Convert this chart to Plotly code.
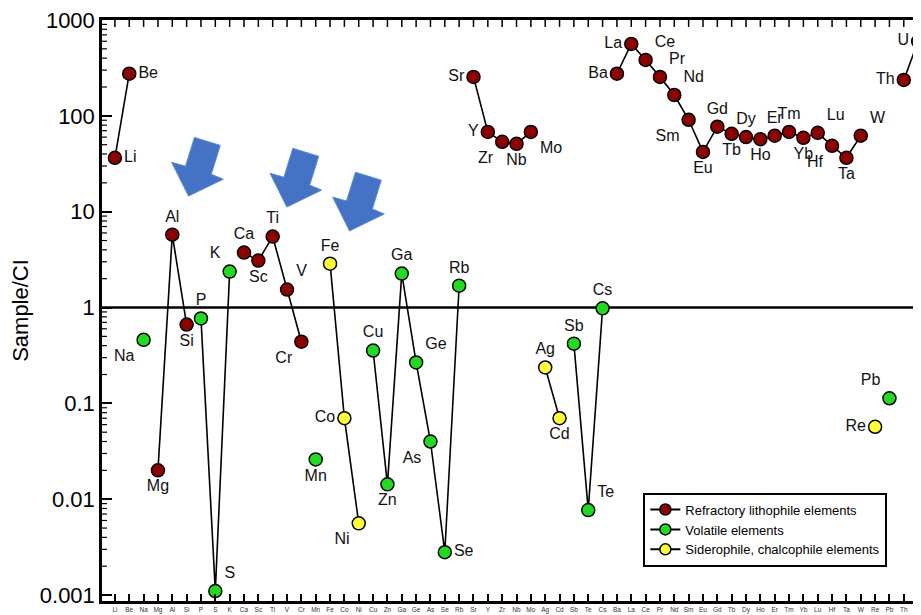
import plotly.graph_objects as go

# ---------------- data ----------------
elements = ["Li","Be","Na","Mg","Al","Si","P","S","K","Ca","Sc","Ti","V","Cr","Mn","Fe","Co","Ni",
            "Cu","Zn","Ga","Ge","As","Se","Rb","Sr","Y","Zr","Nb","Mo","Ag","Cd","Sb","Te","Cs",
            "Ba","La","Ce","Pr","Nd","Sm","Eu","Gd","Tb","Dy","Ho","Er","Tm","Yb","Lu","Hf","Ta",
            "W","Re","Pb","Th","U"]
values = [36.5, 275, 0.46, 0.020, 5.75, 0.665, 0.77, 0.0011, 2.37, 3.74, 3.09, 5.5, 1.54, 0.44,
          0.026, 2.87, 0.070, 0.0056, 0.356, 0.0143, 2.26, 0.267, 0.040, 0.0028, 1.69, 255, 68,
          53.6, 51, 68, 0.237, 0.070, 0.42, 0.0077, 0.98, 275, 562, 383, 255, 165, 91, 42, 77,
          65, 60, 57, 62, 68, 59, 66.5, 48.7, 36.5, 62, 0.057, 0.113, 237, 600]
refractory = ["Li","Be","Mg","Al","Si","Ca","Sc","Ti","V","Cr","Sr","Y","Zr","Nb","Mo","Ba","La",
              "Ce","Pr","Nd","Sm","Eu","Gd","Tb","Dy","Ho","Er","Tm","Yb","Lu","Hf","Ta","W","Th","U"]
volatile = ["Na","P","S","K","Mn","Cu","Zn","Ga","Ge","As","Se","Rb","Sb","Te","Cs","Pb"]
siderophile = ["Fe","Co","Ni","Ag","Cd","Re"]
connected = [["Li","Be"], ["Mg","Al","Si"], ["P","S","K"], ["Ca","Sc","Ti","V","Cr"],
             ["Fe","Co","Ni"], ["Cu","Zn","Ga","Ge","As","Se","Rb"], ["Sr","Y","Zr","Nb","Mo"],
             ["Ag","Cd"], ["Sb","Te","Cs"],
             ["Ba","La","Ce","Pr","Nd","Sm","Eu","Gd","Tb","Dy","Ho","Er","Tm","Yb","Lu","Hf","Ta","W"],
             ["Th","U"]]
group_names = ["Refractory lithophile elements", "Volatile elements", "Siderophile, chalcophile elements"]
ytick_vals = [1000, 100, 10, 1, 0.1, 0.01, 0.001]
ytick_text = ["1000", "100", "10", "1", "0.1", "0.01", "0.001"]

# ---------------- style ----------------
colors = {"R": "#8f0000", "V": "#1fdc1f", "S": "#ffff33"}
label_pos = {
    "Li": "middle right", "Be": "middle right", "Na": "bottom left", "Mg": "bottom center",
    "Al": "top center", "Si": "bottom center", "P": "top center", "S": "top right",
    "K": "top left", "Ca": "top center", "Sc": "bottom center", "Ti": "top center",
    "V": "top right", "Cr": "bottom left", "Mn": "bottom center", "Fe": "top center",
    "Co": "middle left", "Ni": "bottom left", "Cu": "top center", "Zn": "bottom center",
    "Ga": "top center", "Ge": "top right", "As": "bottom left", "Se": "middle right",
    "Rb": "top center", "Sr": "middle left", "Y": "middle left", "Zr": "bottom left",
    "Nb": "bottom center", "Mo": "bottom right", "Ag": "top center", "Cd": "bottom center",
    "Sb": "top center", "Te": "top right", "Cs": "top center", "Ba": "middle left",
    "La": "middle left", "Ce": "top right", "Pr": "top right", "Nd": "top right",
    "Sm": "bottom left", "Eu": "bottom center", "Gd": "top center", "Tb": "bottom center",
    "Dy": "top center", "Ho": "bottom center", "Er": "top center", "Tm": "top center",
    "Yb": "bottom center", "Lu": "top right", "Hf": "bottom left", "Ta": "bottom center",
    "W": "top right", "Re": "middle left", "Pb": "top left", "Th": "middle left", "U": "middle left",
}
FONT = "Arial, Liberation Sans, sans-serif"

idx = {e: i for i, e in enumerate(elements)}
val = dict(zip(elements, values))
XRANGE = [-0.9, 56.2]
YRANGE = [-3.062, 3]
minor_vals = [k * 10.0 ** n for n in range(-3, 3) for k in range(2, 10)]

# geometry (page has an 8px body margin)
FIG_W, FIG_H = 913, 607
L, T, W, H = 89, 9, 824, 584
OFF = 8

fig = go.Figure()

# connecting lines
lx, ly = [], []
for seg in connected:
    for e in seg:
        lx.append(idx[e]); ly.append(val[e])
    lx.append(None); ly.append(None)
fig.add_trace(go.Scatter(x=lx, y=ly, mode="lines", line=dict(color="black", width=1.6),
                         showlegend=False, hoverinfo="skip"))

# markers per group
for key, members, name in [("R", refractory, group_names[0]), ("V", volatile, group_names[1]),
                           ("S", siderophile, group_names[2])]:
    els = [e for e in elements if e in members]
    fig.add_trace(go.Scatter(
        x=[idx[e] for e in els], y=[val[e] for e in els],
        mode="markers+text", text=els, textposition=[label_pos[e] for e in els],
        textfont=dict(family=FONT, size=16, color="#111"),
        marker=dict(size=13, color=colors[key], line=dict(color="black", width=1.5)),
        showlegend=False, cliponaxis=True))
    fig.add_trace(go.Scatter(
        x=[None], y=[None], mode="lines+markers", name=name,
        line=dict(color="black", width=2),
        marker=dict(size=11, color=colors[key], line=dict(color="black", width=1.5))))

# reference line at 1
fig.add_shape(type="line", xref="paper", x0=0, x1=1, yref="y", y0=1, y1=1,
              line=dict(color="black", width=2.5), layer="below")

# top-axis ticks (mirrored element ticks)
for i in range(len(elements)):
    fig.add_shape(type="line", xref="x", x0=i, x1=i, yref="paper", y0=1, y1=1 - 7 / H,
                  line=dict(color="black", width=1.5))
# minor log ticks on the y axis
for v in minor_vals:
    fig.add_shape(type="line", xref="paper", x0=0, x1=5 / W, yref="y", y0=v, y1=v,
                  line=dict(color="black", width=1.2))

# blue arrows
arrow_px = [(190, 135), (216, 143), (207, 172), (219, 177), (184, 194), (167, 160), (181, 164)]
for dx, dy in [(0, 0), (99, 11), (162, 35)]:
    pts = [((x + dx - OFF - L) / W, (T + H - (y + dy - OFF)) / H) for x, y in arrow_px]
    path = "M " + " L ".join(f"{px:.4f},{py:.4f}" for px, py in pts) + " Z"
    fig.add_shape(type="path", xref="paper", yref="paper", path=path,
                  fillcolor="#4472c4", line=dict(color="#5b8bd5", width=1))

fig.update_layout(
    width=FIG_W, height=FIG_H,
    margin=dict(l=L, r=FIG_W - L - W, t=T, b=FIG_H - T - H),
    paper_bgcolor="white", plot_bgcolor="white",
    font=dict(family=FONT, color="black"),
    legend=dict(x=0.661, y=0.1866, xanchor="left", yanchor="top",
                bordercolor="black", borderwidth=2, bgcolor="white",
                font=dict(family=FONT, size=13), itemwidth=30, tracegroupgap=0),
    xaxis=dict(
        range=XRANGE, tickmode="array", tickvals=list(range(len(elements))), ticktext=elements,
        ticks="inside", ticklen=7, tickwidth=1.5, tickcolor="black",
        showline=True, linecolor="black", linewidth=2.5, mirror=True,
        showgrid=False, zeroline=False, tickfont=dict(family=FONT, size=6.5, color="#333"),
        tickangle=0),
    yaxis=dict(
        type="log", range=YRANGE, tickmode="array", tickvals=ytick_vals, ticktext=ytick_text,
        ticks="inside", ticklen=10, tickwidth=1.5, tickcolor="black", ticklabeloverflow="allow",
        showline=True, linecolor="black", linewidth=2.5, showgrid=False, zeroline=False,
        tickfont=dict(family=FONT, size=22, color="black"),
        title=dict(text="Sample/CI", font=dict(family=FONT, size=22, color="black"), standoff=16)),
)

fig.write_html("out.html")
